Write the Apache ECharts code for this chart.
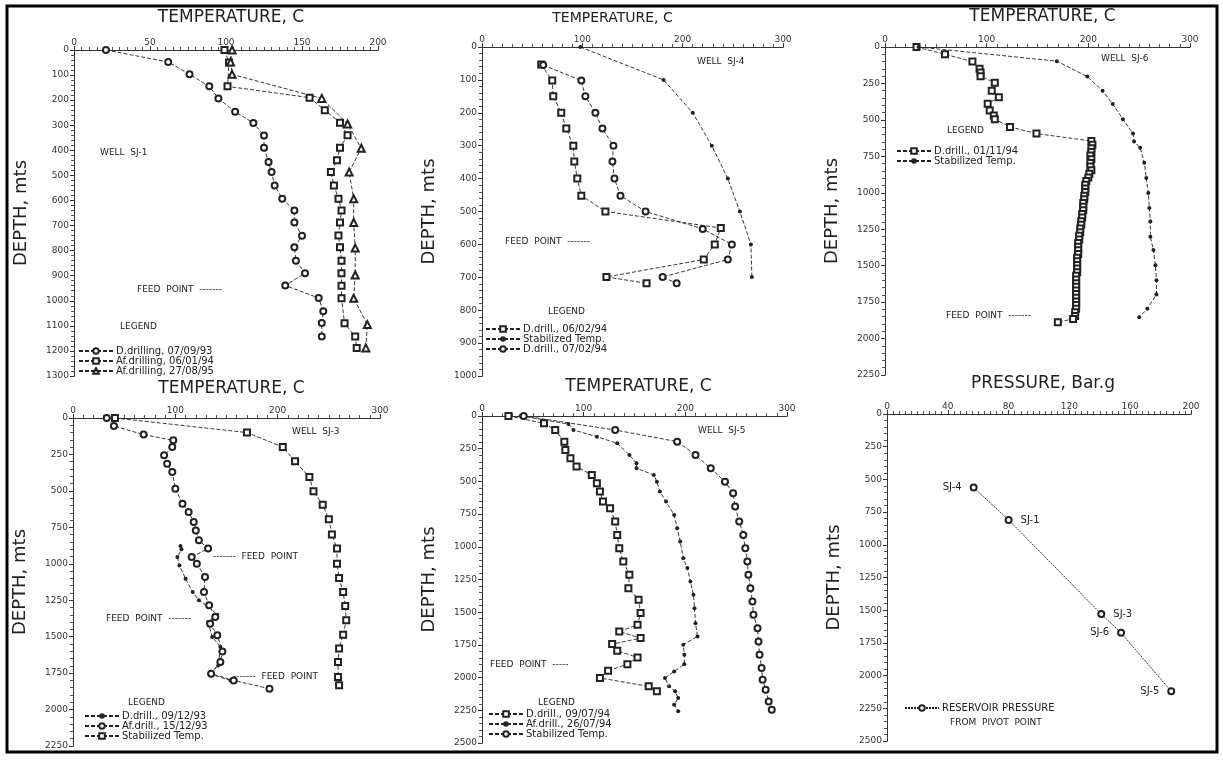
<!DOCTYPE html>
<html><head><meta charset="utf-8">
<script src="https://cdn.jsdelivr.net/npm/echarts@6/dist/echarts.min.js"></script>
<style>html,body{margin:0;padding:0;background:#fff}#c{width:1223px;height:761px}</style>
</head><body><div id="c"></div>
<script>
// ---------- DATA ----------
// Well SJ-1 (temperature C vs depth m)
const sj1DrillTemp  = [21,62,76,89,95,106,118,125,125,128,130,132,137,145,145,150,145,146,152,139,161,164,163,163];
const sj1DrillDepth = [0,48,97,145,193,246,291,341,390,447,487,540,593,640,688,741,787,840,890,939,989,1042,1089,1142];
const sj1Af94Temp   = [99,102,101,155,165,175,180,175,173,169,171,174,176,175,174,175,176,176,176,176,178,185,186];
const sj1Af94Depth  = [0,50,145,190,240,290,340,390,440,487,540,593,640,688,740,787,840,890,940,990,1090,1142,1188];
const sj1Af95Temp   = [104,103,104,163,180,189,181,184,184,185,185,184,193,192];
const sj1Af95Depth  = [0,48,97,193,295,392,487,593,688,790,897,990,1095,1188];

// Well SJ-4
const sj4D1Temp  = [59,70,71,79,84,91,92,95,99,123,238,232,221,124,164];
const sj4D1Depth = [53,102,150,200,248,300,348,400,452,500,550,600,646,699,718];
const sj4StTemp  = [98,181,210,229,245,257,268,269];
const sj4StDepth = [0,100,200,300,400,500,600,699];
const sj4D2Temp  = [61,99,103,113,120,131,130,132,138,163,220,249,245,180,194];
const sj4D2Depth = [55,102,150,200,248,300,348,400,452,500,553,600,646,699,718];

// Well SJ-6
const sj6DTemp  = [31,59,86,93,94,94,108,105,112,101,103,107,108,123,149,203,204,203,203,202,203,202,202,203,201,200,198,197,197,197,196,196,195,195,195,194,194,193,193,192,192,191,191,190,190,190,190,189,189,189,189,189,188,188,188,188,188,188,188,188,188,188,187,187,185,170];
const sj6DDepth = [0,50,100,150,175,200,245,300,345,390,435,470,495,548,594,645,670,695,720,745,770,795,820,845,870,895,920,945,970,995,1020,1045,1070,1095,1120,1145,1170,1195,1220,1245,1270,1295,1320,1345,1370,1395,1420,1445,1470,1495,1520,1545,1570,1595,1620,1645,1670,1695,1720,1745,1770,1795,1820,1845,1865,1888];
const sj6StTemp  = [33,169,199,214,224,234,244,245,251,255,257,259,260,261,261,264,266,267,267,258,250];
const sj6StDepth = [0,97,203,300,391,495,594,649,691,794,898,1002,1105,1197,1301,1393,1497,1600,1697,1796,1854];

// Well SJ-3
const sj3DTemp   = [105,106,102,104,110,117,123,132,141,132,136,144,142,133,154,157];
const sj3DDepth  = [878,901,954,1011,1102,1194,1251,1292,1349,1400,1502,1570,1697,1754,1800,1806];
const sj3AfTemp  = [33,40,69,98,97,89,92,97,100,107,113,118,120,123,132,116,121,129,128,133,139,134,141,146,144,135,157,192];
const sj3AfDepth = [0,55,114,153,199,256,313,370,485,588,645,713,771,839,896,954,999,1091,1194,1285,1365,1411,1491,1601,1674,1754,1800,1857];
const sj3StTemp  = [41,170,205,217,231,235,244,250,253,258,258,260,264,266,267,264,260,259,259,260];
const sj3StDepth = [0,100,199,297,405,503,595,695,800,896,999,1098,1194,1290,1388,1486,1582,1674,1777,1834];

// Well SJ-5
const sj5DTemp   = [26,61,72,81,82,87,93,108,113,116,119,126,131,133,135,139,145,144,154,156,153,135,156,128,133,153,143,124,116,164,172];
const sj5DDepth  = [0,56,107,196,260,323,387,451,514,578,654,705,807,909,1011,1113,1214,1316,1405,1507,1596,1647,1698,1744,1795,1846,1897,1948,2003,2067,2105];
const sj5AfTemp  = [38,85,90,113,133,145,152,152,169,172,175,181,189,192,195,198,202,205,208,209,210,212,198,199,199,189,180,184,190,193,189,193];
const sj5AfDepth = [0,61,107,158,209,298,361,400,451,502,578,654,756,858,960,1087,1163,1265,1367,1469,1584,1685,1749,1825,1897,1953,2003,2067,2105,2156,2207,2258];
const sj5StTemp  = [41,131,192,210,225,239,247,249,253,257,259,261,262,264,266,267,271,272,273,275,276,279,282,285];
const sj5StDepth = [0,107,196,298,400,502,591,692,807,909,1011,1113,1214,1316,1418,1520,1622,1724,1825,1927,2016,2093,2182,2245];

// Reservoir pressure from pivot point
const wells        = ['SJ-4','SJ-1','SJ-3','SJ-6','SJ-5'];
const wellPressure = [57,80,141,154,187];
const wellDepth    = [562,810,1530,1673,2120];

// ---------- CHART ----------
const FONT = 'DejaVu Sans';
const INK = '#222';
const zip = (a, b) => a.map((v, i) => [v, b[i]]);

const panels = [
  {left:74, top:50, width:304, height:326, xMax:200, xInt:50, yMax:1300, yInt:100, title:'TEMPERATURE, C', tSize:17, tGap:24, tPad:[0,0,0,10]},
  {left:482,top:47, width:301, height:329, xMax:300, xInt:100, yMax:1000, yInt:100, title:'TEMPERATURE, C', tSize:14, tGap:22, tPad:[0,40,0,0]},
  {left:885,top:47, width:305, height:328, xMax:300, xInt:100, yMax:2250, yInt:250, title:'TEMPERATURE, C', tSize:17, tGap:22, tPad:[0,0,0,10]},
  {left:73, top:418,width:307, height:328, xMax:300, xInt:100, yMax:2250, yInt:250, title:'TEMPERATURE, C', tSize:17, tGap:21, tPad:[0,0,0,10]},
  {left:482,top:416,width:305, height:327, xMax:300, xInt:100, yMax:2500, yInt:250, title:'TEMPERATURE, C', tSize:17, tGap:21, tPad:[0,0,0,8]},
  {left:887,top:414,width:304, height:327, xMax:200, xInt:40, yMax:2500, yInt:250, title:'PRESSURE, Bar.g', tSize:17, tGap:22, tPad:[0,0,0,8]}
];

const grid = [], xAxis = [], yAxis = [];
const axLine = {show:true, lineStyle:{color:'#333', width:1}};
const tick = {show:true, inside:false, length:4, lineStyle:{color:'#333'}};
const minor = {show:true, splitNumber:10, length:3, lineStyle:{color:'#555'}};
const plain = v => String(v);
panels.forEach((p, i) => {
  grid.push({left:p.left, top:p.top, width:p.width, height:p.height, containLabel:false});
  xAxis.push({gridIndex:i, type:'value', position:'top', min:0, max:p.xMax, interval:p.xInt,
    axisLine:axLine, axisTick:tick, minorTick:minor, splitLine:{show:false},
    axisLabel:{fontFamily:FONT, fontSize:9, color:'#333', margin:3, formatter:plain},
    name:p.title, nameLocation:'middle', nameGap:p.tGap,
    nameTextStyle:{fontFamily:FONT, fontSize:p.tSize, color:'#222', padding:p.tPad}});
  xAxis.push({gridIndex:i, type:'value', position:'bottom', min:0, max:p.xMax, interval:p.xInt,
    axisLine:axLine, axisTick:{show:true, inside:true, length:4, lineStyle:{color:'#333'}},
    minorTick:minor, splitLine:{show:false}, axisLabel:{show:false}});
  yAxis.push({gridIndex:i, type:'value', inverse:true, position:'left', min:0, max:p.yMax, interval:p.yInt,
    axisLine:axLine, axisTick:tick, minorTick:{show:true, splitNumber:5, length:3, lineStyle:{color:'#555'}}, splitLine:{show:false},
    axisLabel:{fontFamily:FONT, fontSize:9, color:'#333', margin:5, formatter:plain},
    name:'DEPTH, mts', nameLocation:'middle', nameRotate:90, nameGap:44,
    nameTextStyle:{fontFamily:FONT, fontSize:18, color:'#222'}});
  yAxis.push({gridIndex:i, type:'value', inverse:true, position:'right', min:0, max:p.yMax, interval:p.yInt,
    axisLine:axLine, axisTick:{show:true, inside:true, length:4, lineStyle:{color:'#333'}},
    minorTick:{show:true, splitNumber:5, length:3, lineStyle:{color:'#555'}}, splitLine:{show:false}, axisLabel:{show:false}});
});

function ser(panel, name, temps, depths, symbol, size) {
  return {
    name: name, type:'line', xAxisIndex: panel*2, yAxisIndex: panel*2,
    data: zip(temps, depths), symbol: symbol, symbolSize: size, showAllSymbol:true,
    itemStyle:{color: INK, borderWidth:0.9},
    lineStyle:{color: INK, width:0.9, type:[4,2]},
    animation:false, z:3
  };
}

const series = [
  ser(0,'SJ-1|D.drilling, 07/09/93', sj1DrillTemp, sj1DrillDepth, 'emptyCircle', 6),
  ser(0,'SJ-1|Af.drilling, 06/01/94', sj1Af94Temp, sj1Af94Depth, 'emptyRect', 6),
  ser(0,'SJ-1|Af.drilling, 27/08/95', sj1Af95Temp, sj1Af95Depth, 'emptyTriangle', 7),
  ser(1,'SJ-4|D.drill., 06/02/94', sj4D1Temp, sj4D1Depth, 'emptyRect', 6),
  ser(1,'SJ-4|Stabilized Temp.', sj4StTemp, sj4StDepth, 'circle', 4),
  ser(1,'SJ-4|D.drill., 07/02/94', sj4D2Temp, sj4D2Depth, 'emptyCircle', 6),
  ser(2,'SJ-6|D.drill., 01/11/94', sj6DTemp, sj6DDepth, 'emptyRect', 6),
  ser(2,'SJ-6|Stabilized Temp.', sj6StTemp, sj6StDepth, 'circle', 4),
  ser(3,'SJ-3|D.drill., 09/12/93', sj3DTemp, sj3DDepth, 'circle', 4),
  ser(3,'SJ-3|Af.drill., 15/12/93', sj3AfTemp, sj3AfDepth, 'emptyCircle', 6),
  ser(3,'SJ-3|Stabilized Temp.', sj3StTemp, sj3StDepth, 'emptyRect', 6),
  ser(4,'SJ-5|D.drill., 09/07/94', sj5DTemp, sj5DDepth, 'emptyRect', 6),
  ser(4,'SJ-5|Af.drill., 26/07/94', sj5AfTemp, sj5AfDepth, 'circle', 4),
  ser(4,'SJ-5|Stabilized Temp.', sj5StTemp, sj5StDepth, 'emptyCircle', 6)
];
const labelPos = ['left','right','right','left','left'];
const pres = ser(5,'P|RESERVOIR PRESSURE', wellPressure, wellDepth, 'emptyCircle', 6);
pres.lineStyle = {color:INK, width:0.9, type:[2,1]};
pres.data = wellPressure.map((v, i) => ({value:[v, wellDepth[i]], name:wells[i],
  label:{show:true, position:labelPos[i], formatter:wells[i], fontFamily:FONT, fontSize:10, color:'#222', distance:8}}));
series.push(pres);

function legend(prefix, left, top) {
  return {
    data: series.filter(s => s.name.startsWith(prefix + '|')).map(s => s.name),
    left:left, top:top, orient:'vertical', itemGap:0, itemWidth:34, itemHeight:7,
    selectedMode:false, padding:0,
    formatter: n => n.split('|')[1],
    textStyle:{fontFamily:FONT, fontSize:10, color:'#222', padding:[0,0,0,-2]}
  };
}
const legends = [
  legend('SJ-1', 78, 346), legend('SJ-4', 485, 324), legend('SJ-6', 896, 146),
  legend('SJ-3', 84, 711), legend('SJ-5', 488, 709), legend('P', 904, 703)
];

const notes = [
  ['WELL  SJ-1', 100, 154], ['FEED  POINT  -------', 137, 291], ['LEGEND', 120, 328],
  ['WELL  SJ-4', 697, 63], ['FEED  POINT  -------', 505, 243], ['LEGEND', 548, 313],
  ['WELL  SJ-6', 1101, 60], ['LEGEND', 947, 132], ['FEED  POINT  -------', 946, 317],
  ['WELL  SJ-3', 292, 433], ['-------  FEED  POINT', 213, 558], ['FEED  POINT  -------', 106, 620],
  ['-------  FEED  POINT', 233, 678], ['LEGEND', 128, 704],
  ['WELL  SJ-5', 698, 432], ['FEED  POINT  -----', 490, 666], ['LEGEND', 538, 704],
  ['FROM  PIVOT  POINT', 950, 724]
];
const graphic = notes.map(n => ({type:'text', left:n[1], top:n[2] - 6, z:10,
  style:{text:n[0], font:'9px "DejaVu Sans"', fill:'#222'}}));
graphic.push({type:'rect', shape:{x:7, y:6, width:1210, height:746}, z:0,
  style:{fill:null, stroke:'#000', lineWidth:3}});

const chart = echarts.init(document.getElementById('c'), null, {renderer:'canvas'});
chart.setOption({
  backgroundColor:'#fff', animation:false,
  grid, xAxis, yAxis, series, legend: legends, graphic
});
</script></body></html>
